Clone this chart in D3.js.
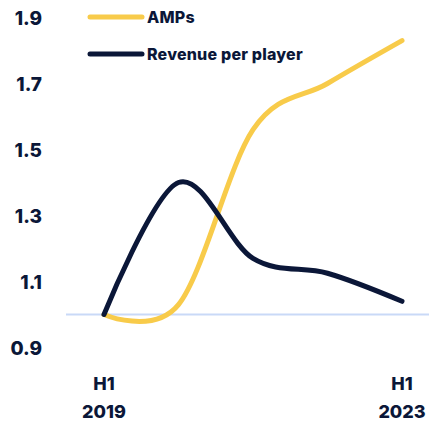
<!DOCTYPE html>
<html>
<head>
<meta charset="utf-8">
<script src="https://cdn.jsdelivr.net/npm/d3@7/dist/d3.min.js"></script>
<style>
  html, body { margin: 0; padding: 0; background: #ffffff; }
  svg { display: block; }
  text { font-family: "Inter", "Open Sans", sans-serif; font-weight: 800; fill: #0b1738; }
</style>
</head>
<body>
<svg id="chart" width="429" height="421"></svg>
<script>
// First-half periods, H1 2019 to H1 2023 (indexed to H1 2019 = 1.0)
const periods = ["H1 2019", "H1 2020", "H1 2021", "H1 2022", "H1 2023"];
const amps = [1.0, 1.03, 1.56, 1.70, 1.83];
const revenuePerPlayer = [1.0, 1.40, 1.17, 1.125, 1.04];
const yTicks = [0.9, 1.1, 1.3, 1.5, 1.7, 1.9];
const xTickLabels = [["H1", "2019"], ["H1", "2023"]];
const xTickPeriods = ["H1 2019", "H1 2023"];
const seriesNames = ["AMPs", "Revenue per player"];

const colors = { amps: "#f8cb4a", revenue: "#0b1738", baseline: "#c9d9f7" };

const svg = d3.select("#chart");

const x = d3.scalePoint().domain(periods).range([104, 402]);
const y = d3.scaleLinear().domain([1.0, 1.9]).range([314.5, 17.5]);

// Reference line at the index base (1.0)
svg.append("line")
  .attr("x1", 66).attr("x2", 429)
  .attr("y1", y(1.0)).attr("y2", y(1.0))
  .attr("stroke", colors.baseline).attr("stroke-width", 2);

// Y axis labels
const yAxis = d3.axisLeft(y).tickValues(yTicks).tickFormat(d3.format(".1f")).tickSize(0).tickPadding(0);
const yg = svg.append("g").attr("transform", "translate(42,0)").call(yAxis);
yg.select(".domain").remove();
yg.selectAll("text")
  .attr("font-size", 19)
  .attr("font-family", null)
  .attr("fill", colors.revenue)
  .attr("dy", "0.35em");

// X axis labels (two-line)
const xg = svg.append("g");
xTickPeriods.forEach((p, i) => {
  const t = xg.append("text")
    .attr("x", x(p))
    .attr("text-anchor", "middle")
    .attr("font-size", 18);
  t.append("tspan").attr("x", x(p)).attr("y", 390).text(xTickLabels[i][0]);
  t.append("tspan").attr("x", x(p)).attr("y", 418).text(xTickLabels[i][1]);
});

// Lines (uniform Catmull-Rom spline through the yearly points)
const line = d3.line()
  .x((d, i) => x(periods[i]))
  .y(d => y(d))
  .curve(d3.curveCardinal.tension(0));

svg.append("path")
  .datum(amps)
  .attr("fill", "none")
  .attr("stroke", colors.amps)
  .attr("stroke-width", 5)
  .attr("stroke-linecap", "round")
  .attr("d", line);

svg.append("path")
  .datum(revenuePerPlayer)
  .attr("fill", "none")
  .attr("stroke", colors.revenue)
  .attr("stroke-width", 5)
  .attr("stroke-linecap", "round")
  .attr("d", line);

// Legend
const legend = svg.append("g");
[[seriesNames[0], colors.amps, 17], [seriesNames[1], colors.revenue, 54]].forEach(([name, c, ly]) => {
  legend.append("line")
    .attr("x1", 90).attr("x2", 142)
    .attr("y1", ly).attr("y2", ly)
    .attr("stroke", c).attr("stroke-width", 5)
    .attr("stroke-linecap", "round");
  legend.append("text")
    .attr("x", 147).attr("y", ly)
    .attr("dy", "0.35em")
    .attr("font-size", 16)
    .attr("letter-spacing", 0.2)
    .text(name);
});
</script>
</body>
</html>
